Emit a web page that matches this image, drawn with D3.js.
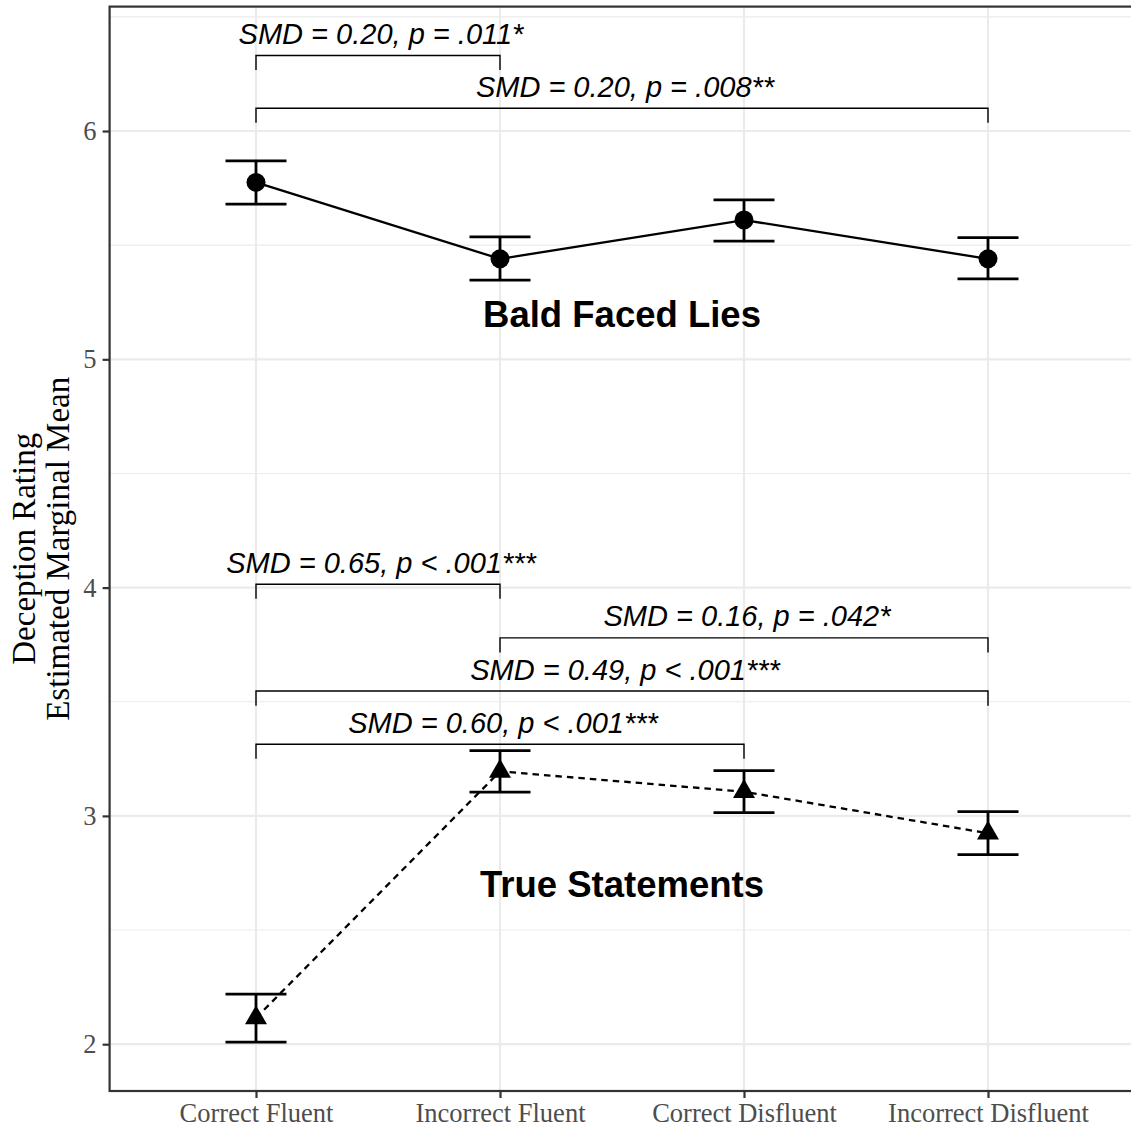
<!doctype html>
<html lang="en">
<head>
<meta charset="UTF-8">
<title>Deception rating</title>
<script src="https://d3js.org/d3.v7.min.js"></script>
<style>
  body { margin: 0; background: #fff; }
  svg { display: block; }
</style>
</head>
<body>
<svg id="chart"></svg>
<script>
// ---- data ----
const categories = ["Correct Fluent", "Incorrect Fluent", "Correct Disfluent", "Incorrect Disfluent"];

const lieMean  = [5.775, 5.44, 5.61, 5.44];
const lieLower = [5.68, 5.347, 5.518, 5.352];
const lieUpper = [5.869, 5.536, 5.698, 5.533];

const trueMean  = [2.115, 3.195, 3.106, 2.924];
const trueLower = [2.009, 3.104, 3.014, 2.83];
const trueUpper = [2.219, 3.286, 3.198, 3.019];

const yTicks = [2, 3, 4, 5, 6];
const yMinor = [2.5, 3.5, 4.5, 5.5, 6.5];

// comparison brackets: from, to, bar height, label
const bracketFrom  = ["Correct Fluent", "Correct Fluent", "Correct Fluent", "Incorrect Fluent", "Correct Fluent", "Correct Fluent"];
const bracketTo    = ["Incorrect Fluent", "Incorrect Disfluent", "Incorrect Fluent", "Incorrect Disfluent", "Incorrect Disfluent", "Correct Disfluent"];
const bracketY     = [6.331, 6.10, 4.015, 3.78, 3.547, 3.314];
const bracketLabel = ["SMD = 0.20, p = .011*", "SMD = 0.20, p = .008**", "SMD = 0.65, p < .001***",
                      "SMD = 0.16, p = .042*", "SMD = 0.49, p < .001***", "SMD = 0.60, p < .001***"];

const groupLabels = ["Bald Faced Lies", "True Statements"];
const groupLabelY = [5.141, 2.645];

// ---- layout ----
const width = 1131, height = 1129;
const panel = { left: 109.6, right: 1134.4, top: 6.6, bottom: 1091 };

const svg = d3.select("#chart").attr("width", width).attr("height", height);

const x = d3.scalePoint().domain(categories).range([256, 988]);
const y = d3.scaleLinear().domain([1.795, 6.545]).range([panel.bottom, panel.top]);

const sans = "'Liberation Sans', Arial, Helvetica, sans-serif";
const serif = "'Liberation Serif', 'Times New Roman', Times, serif";

// grid
const grid = svg.append("g");
grid.selectAll(".minor").data(yMinor).enter().append("line")
    .attr("x1", panel.left).attr("x2", panel.right)
    .attr("y1", d => y(d)).attr("y2", d => y(d))
    .attr("stroke", "#ebebeb").attr("stroke-width", 1.1);
grid.selectAll(".major").data(yTicks).enter().append("line")
    .attr("x1", panel.left).attr("x2", panel.right)
    .attr("y1", d => y(d)).attr("y2", d => y(d))
    .attr("stroke", "#ebebeb").attr("stroke-width", 2.2);
grid.selectAll(".vmajor").data(categories).enter().append("line")
    .attr("x1", d => x(d)).attr("x2", d => x(d))
    .attr("y1", panel.top).attr("y2", panel.bottom)
    .attr("stroke", "#ebebeb").attr("stroke-width", 2.2);

// axes
const yAxis = svg.append("g")
    .attr("transform", `translate(${panel.left},0)`)
    .call(d3.axisLeft(y).tickValues(yTicks).tickSize(7).tickPadding(6).tickFormat(d3.format("d")));
const xAxis = svg.append("g")
    .attr("transform", `translate(0,${panel.bottom})`)
    .call(d3.axisBottom(x).tickSize(7).tickPadding(5));
[yAxis, xAxis].forEach(a => {
  a.select(".domain").remove();
  a.selectAll(".tick line").attr("stroke", "#333").attr("stroke-width", 2.2);
  a.selectAll(".tick text").attr("fill", "#4d4d4d")
    .style("font-family", serif).style("font-size", "26.5px");
});

// panel border
svg.append("rect")
    .attr("x", panel.left).attr("y", panel.top)
    .attr("width", panel.right - panel.left).attr("height", panel.bottom - panel.top)
    .attr("fill", "none").attr("stroke", "#333").attr("stroke-width", 2.2);

// y axis title (two lines)
const titleG = svg.append("g")
    .attr("transform", `translate(0,${(panel.top + panel.bottom) / 2}) rotate(-90)`)
    .style("font-family", serif).style("font-size", "33px").attr("fill", "#000")
    .attr("text-anchor", "middle");
titleG.append("text").attr("x", 0).attr("y", 35).text("Deception Rating");
titleG.append("text").attr("x", 0).attr("y", 69).text("Estimated Marginal Mean");

// series
function drawSeries(mean, lower, upper, dashed, shape) {
  const g = svg.append("g");
  const pts = categories.map((c, i) => ({ c, m: mean[i], lo: lower[i], hi: upper[i] }));
  g.append("path")
      .datum(pts)
      .attr("fill", "none").attr("stroke", "#000").attr("stroke-width", 2.3)
      .attr("stroke-dasharray", dashed ? "6.5,5" : null)
      .attr("d", d3.line().x(d => x(d.c)).y(d => y(d.m)));
  const eb = g.selectAll(".eb").data(pts).enter().append("g");
  const hw = 30.5;
  eb.append("line").attr("x1", d => x(d.c)).attr("x2", d => x(d.c))
      .attr("y1", d => y(d.lo)).attr("y2", d => y(d.hi));
  eb.append("line").attr("x1", d => x(d.c) - hw).attr("x2", d => x(d.c) + hw)
      .attr("y1", d => y(d.lo)).attr("y2", d => y(d.lo));
  eb.append("line").attr("x1", d => x(d.c) - hw).attr("x2", d => x(d.c) + hw)
      .attr("y1", d => y(d.hi)).attr("y2", d => y(d.hi));
  eb.selectAll("line").attr("stroke", "#000").attr("stroke-width", 2.8);
  if (shape === "circle") {
    g.selectAll(".pt").data(pts).enter().append("circle")
        .attr("cx", d => x(d.c)).attr("cy", d => y(d.m)).attr("r", 9.5).attr("fill", "#000");
  } else {
    const r = 12.7;
    g.selectAll(".pt").data(pts).enter().append("path")
        .attr("d", d => {
          const cx = x(d.c), cy = y(d.m);
          return `M${cx},${cy - r}L${cx + 0.866 * r},${cy + r / 2}L${cx - 0.866 * r},${cy + r / 2}Z`;
        })
        .attr("fill", "#000");
  }
}
drawSeries(lieMean, lieLower, lieUpper, false, "circle");
drawSeries(trueMean, trueLower, trueUpper, true, "triangle");

// group labels
svg.selectAll(".grp").data(groupLabels).enter().append("text")
    .attr("x", (x(categories[1]) + x(categories[2])) / 2)
    .attr("y", (d, i) => y(groupLabelY[i]))
    .attr("text-anchor", "middle")
    .style("font-family", sans).style("font-size", "36.5px").style("font-weight", "bold")
    .text(d => d);

// comparison brackets
const tip = 0.064;
const br = svg.append("g");
bracketLabel.forEach((lab, i) => {
  const x1 = x(bracketFrom[i]), x2 = x(bracketTo[i]);
  const yb = y(bracketY[i]), yt = y(bracketY[i] - tip);
  br.append("path")
      .attr("d", `M${x1},${yt}L${x1},${yb}L${x2},${yb}L${x2},${yt}`)
      .attr("fill", "none").attr("stroke", "#000").attr("stroke-width", 1.4);
  br.append("text")
      .attr("x", (x1 + x2) / 2 + 3).attr("y", yb - 11.5)
      .attr("text-anchor", "middle")
      .style("font-family", sans).style("font-size", "29px").style("font-style", "italic")
      .text(lab);
});
</script>
</body>
</html>
